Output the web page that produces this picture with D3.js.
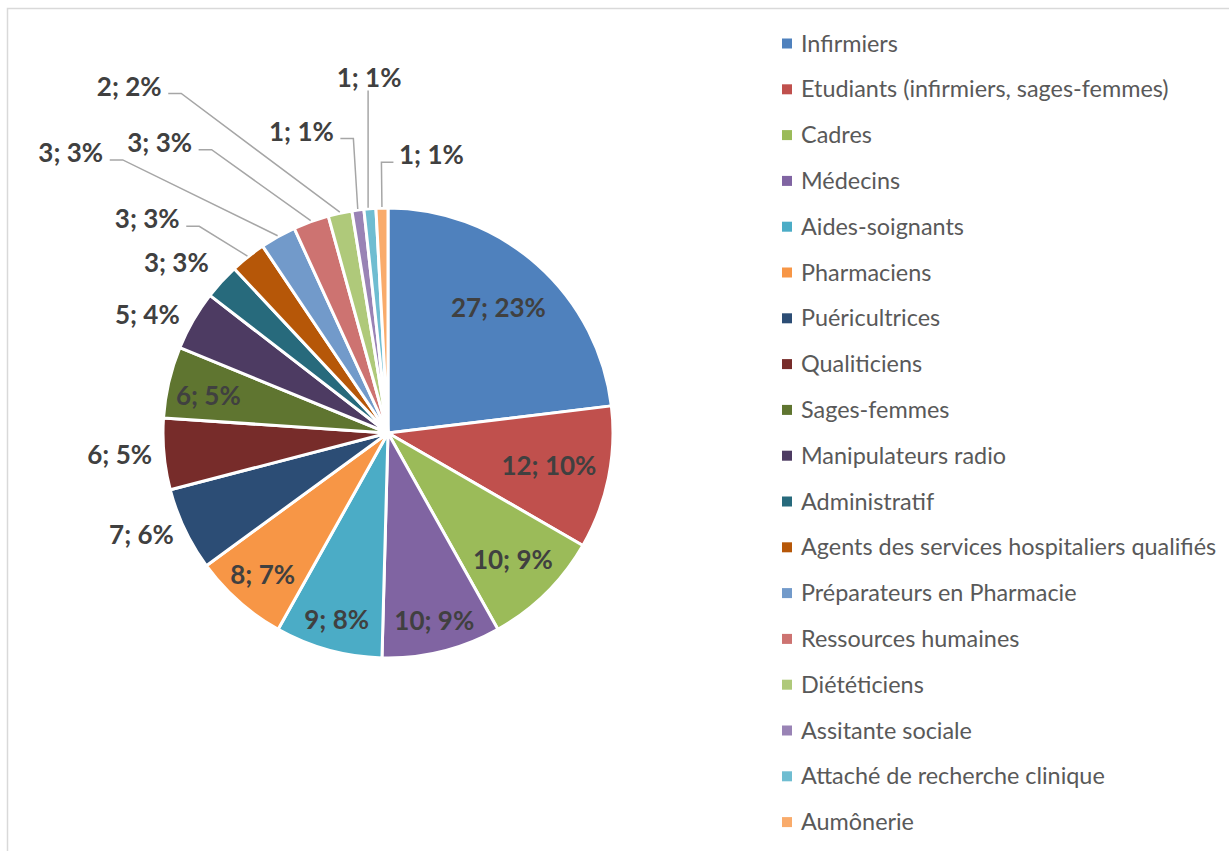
<!DOCTYPE html>
<html><head><meta charset="utf-8">
<script src="https://cdn.jsdelivr.net/npm/d3@7"></script>
<style>body{margin:0;background:#fff}svg{display:block}</style>
</head><body>
<script>
const categories = ["Infirmiers","Etudiants (infirmiers, sages-femmes)","Cadres","Médecins","Aides-soignants","Pharmaciens","Puéricultrices","Qualiticiens","Sages-femmes","Manipulateurs radio","Administratif","Agents des services hospitaliers qualifiés","Préparateurs en Pharmacie","Ressources humaines","Diététiciens","Assitante sociale","Attaché de recherche clinique","Aumônerie"];
const values = [27,12,10,10,9,8,7,6,6,5,3,3,3,3,2,1,1,1];
const percents = [23,10,9,9,8,7,6,5,5,4,3,3,3,3,2,1,1,1];
const colors = ["#4F81BD","#C0504D","#9BBB59","#8064A2","#4BACC6","#F79646","#2C4D75","#772C2A","#5F7530","#4D3B62","#276A7C","#B65708","#729ACA","#CD7371","#AFC97A","#9983B5","#6FBDD1","#F9AB6B"];
// label placement: "in" (radius factor), "out" (beside edge), "lead" (leader line to text placed at offset)
const labelMode = ["in","in","in","in","in","in","out","out","in","out","out","lead","lead","lead","lead","lead","lead","lead"];
const labelRadius = [0.74,0.73,0.79,0.86,0.86,0.84,0,0,0.82,0,0,0,0,0,0,0,0,0];
// leader label text centre, in units of radius relative to pie centre
const leadLabel = {11:[-1.07,-0.95],12:[-1.41,-1.245],13:[-1.015,-1.29],14:[-1.15,-1.54],15:[-0.385,-1.34],16:[-0.084,-1.58],17:[0.193,-1.235]};

const W = 1229, H = 851;
const cx = 388, cy = 433, R = 225;
const svg = d3.select("body").append("svg").attr("width", W).attr("height", H);
svg.append("rect").attr("x",7.5).attr("y",8.5).attr("width",W+20).attr("height",H+20)
  .attr("fill","#fff").attr("stroke","#d9d9d9").attr("stroke-width",1.5);

const data = categories.map((c,i)=>({c, v:values[i], p:percents[i], i}));
const pie = d3.pie().value(d=>d.v).sort(null);
const arcs = pie(data);
const arc = d3.arc().innerRadius(0).outerRadius(R);
const g = svg.append("g").attr("transform",`translate(${cx},${cy})`);
g.selectAll("path.slice").data(arcs).join("path").attr("class","slice")
  .attr("d",arc).attr("fill",d=>colors[d.data.i]).attr("stroke","#fff").attr("stroke-width",3).attr("stroke-linejoin","round");

const lblFont = "Lato, 'Open Sans', sans-serif";
const pol = (a,r)=>[Math.sin(a)*r, -Math.cos(a)*r];
arcs.forEach(d=>{
  const i = d.data.i, mid=(d.startAngle+d.endAngle)/2;
  const txt = `${d.data.v}; ${d.data.p}%`;
  let x,y,anchor="middle";
  if(labelMode[i]==="in"){
    [x,y]=pol(mid,R*labelRadius[i]);
    if(i===8) y+=5;
  } else if(labelMode[i]==="out"){
    const [ex,ey]=pol(mid,R+12);
    x=ex; y=ey; anchor = ex<0?"end":"start";
    if(i===10){y-=11; x-=4;}
    if(i===9){x-=3;}
  } else {
    const [lx,ly]=leadLabel[i];
    x=lx*R; y=ly*R;
    const [px,py]=pol(mid,R+1);
    let pts;
    if(i===16){ pts=[[x-1,y+13],[x-1,py]]; }
    else if(i===17){ const sx=x-38; pts=[[sx,y+7],[sx-12,y+7],[px,py]]; }
    else { const sx=x+39; pts=[[sx,y+7],[sx+13,y+7],[px,py]]; }
    g.append("path").attr("d",d3.line()(pts)).attr("fill","none").attr("stroke","#a6a6a6").attr("stroke-width",1.5);
  }
  g.append("text").attr("x",x).attr("y",y).attr("dy","0.35em").attr("text-anchor",anchor)
    .attr("font-family",lblFont).attr("font-weight","bold").attr("font-size",26).attr("fill","#404040").text(txt);
});

const leg = svg.append("g");
const y0 = 43.5, step = 45.8;
categories.forEach((c,i)=>{
  const y = y0 + i*step;
  leg.append("rect").attr("x",782).attr("y",y-5).attr("width",10).attr("height",10).attr("fill",colors[i]);
  leg.append("text").attr("x",801).attr("y",y).attr("dy","0.35em").attr("font-family",lblFont)
    .attr("font-size",23.4).attr("fill","#595959").text(c);
});
</script>
</body></html>
